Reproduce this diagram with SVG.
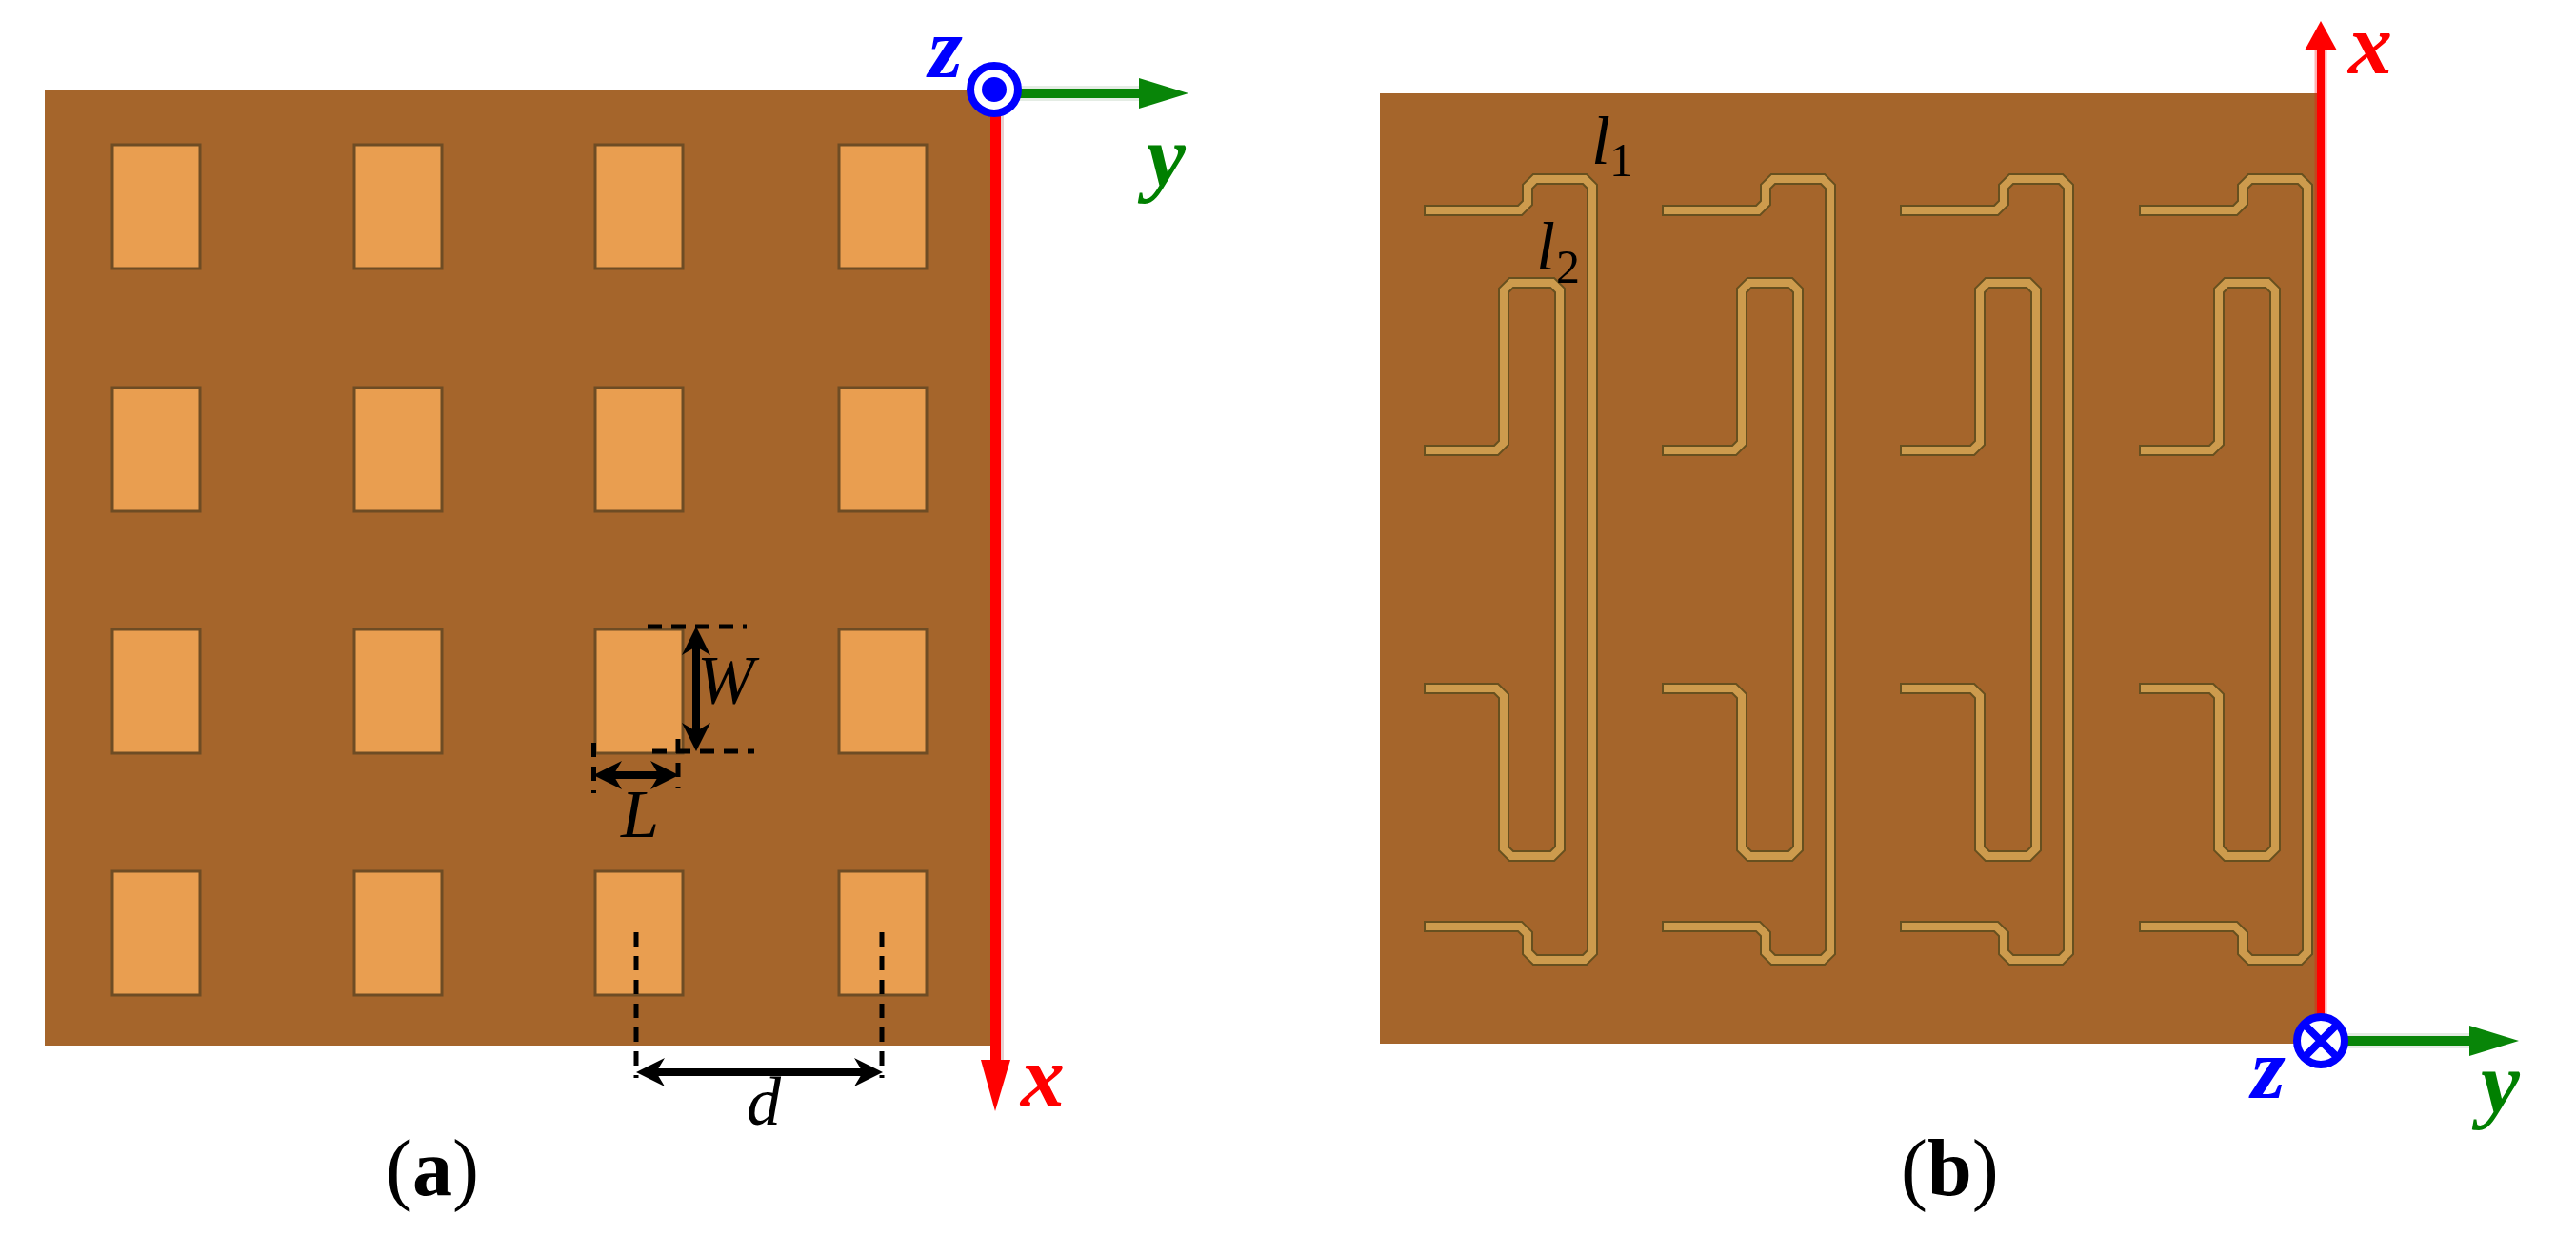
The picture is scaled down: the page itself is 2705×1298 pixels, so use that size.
<svg xmlns="http://www.w3.org/2000/svg" width="2705" height="1298" viewBox="0 0 2705 1298">
<style>
.plate{fill:#a5652b}
.pad{fill:#e99e50;stroke:#6e4c24;stroke-width:3}
.to,.ti{fill:none;stroke-linejoin:miter;stroke-miterlimit:4}
.to{stroke:#67501f;stroke-width:12}
.ti{stroke:#cd9b4d;stroke-width:8}
.dash{fill:none;stroke:#000;stroke-width:5;stroke-dasharray:15 10}
.dim{fill:none;stroke:#000;stroke-width:8;marker-start:url(#dimS);marker-end:url(#dimE)}
.ring{fill:#fff;stroke:#00f;stroke-width:8}
.ax{font-family:"Liberation Serif",serif;font-style:italic;font-weight:700;font-size:92px}
.m{font-family:"Liberation Serif",serif;font-style:italic;font-size:72px;fill:#000}
.sub{font-style:normal;font-size:50px}
.cap{font-family:"Liberation Serif",serif;font-size:84px;fill:#000}
</style>
<defs>
<marker id="dimE" markerUnits="userSpaceOnUse" markerWidth="32" markerHeight="32" refX="18" refY="15" orient="auto" overflow="visible"><path d="M0 0L30 15L0 30L9 15Z" fill="#000"/></marker>
<marker id="dimS" markerUnits="userSpaceOnUse" markerWidth="32" markerHeight="32" refX="12" refY="15" orient="auto" overflow="visible"><path d="M30 0L0 15L30 30L21 15Z" fill="#000"/></marker>
<g id="unit">
<path class="to" d="M1495 221H1596L1604 213V196L1612 188H1664L1672 196V1000L1664 1008H1612L1604 1000V981L1596 973H1495"/>
<path class="ti" d="M1497 221H1596L1604 213V196L1612 188H1664L1672 196V1000L1664 1008H1612L1604 1000V981L1596 973H1497"/>
<path class="to" d="M1495 473H1571L1579 465V305L1587 297H1630L1638 305V891L1630 899H1587L1579 891V731L1571 723H1495"/>
<path class="ti" d="M1497 473H1571L1579 465V305L1587 297H1630L1638 305V891L1630 899H1587L1579 891V731L1571 723H1497"/>
</g>
</defs>
<rect width="2705" height="1298" fill="#fff"/>
<g id="plate-a">
<rect class="plate" x="47" y="94" width="994" height="1004"/>
<g id="pads">
<rect class="pad" x="118" y="152" width="92" height="130"/><rect class="pad" x="372" y="152" width="92" height="130"/><rect class="pad" x="625" y="152" width="92" height="130"/><rect class="pad" x="881" y="152" width="92" height="130"/>
<rect class="pad" x="118" y="407" width="92" height="130"/><rect class="pad" x="372" y="407" width="92" height="130"/><rect class="pad" x="625" y="407" width="92" height="130"/><rect class="pad" x="881" y="407" width="92" height="130"/>
<rect class="pad" x="118" y="661" width="92" height="130"/><rect class="pad" x="372" y="661" width="92" height="130"/><rect class="pad" x="625" y="661" width="92" height="130"/><rect class="pad" x="881" y="661" width="92" height="130"/>
<rect class="pad" x="118" y="915" width="92" height="130"/><rect class="pad" x="372" y="915" width="92" height="130"/><rect class="pad" x="625" y="915" width="92" height="130"/><rect class="pad" x="881" y="915" width="92" height="130"/>
</g>
</g>
<g id="plate-b">
<rect class="plate" x="1449" y="98" width="984" height="998"/>
<use href="#unit"/>
<use href="#unit" x="250"/>
<use href="#unit" x="500"/>
<use href="#unit" x="751"/>
</g>
<g id="connectors">
<path class="dash" d="M680 658H784M685 789H792M623.500 780V833M712 776V828M668 979V1132M926 979V1132"/>
<path class="dim" d="M731 670V777"/>
<path class="dim" d="M635 814H701"/>
<path class="dim" d="M680 1126H915"/>
<g id="axes-a">
<path d="M1052 120V1120" stroke="#e8d0d0" stroke-width="4" fill="none"/>
<path d="M1045.500 120V1120" stroke="#f00" stroke-width="11" fill="none"/>
<path d="M1030 1113H1061L1045 1167Z" fill="#f00"/>
<path d="M1070 98H1200" stroke="#e4ece4" stroke-width="16" fill="none"/>
<path d="M1070 98H1200" stroke="#088508" stroke-width="10" fill="none"/>
<path d="M1196 82L1248 98L1196 114Z" fill="#088508"/>
</g>
<g id="axes-b">
<path d="M2437 50V1070" stroke="#f00" stroke-opacity=".3" stroke-width="13" fill="none"/>
<path d="M2437 50V1070" stroke="#f00" stroke-width="8" fill="none"/>
<path d="M2420 53H2454L2437 22Z" fill="#f00"/>
<path d="M2465 1093H2598" stroke="#e4ece4" stroke-width="16" fill="none"/>
<path d="M2465 1093H2598" stroke="#088508" stroke-width="10" fill="none"/>
<path d="M2593 1077L2645 1093L2593 1109Z" fill="#088508"/>
</g>
</g>
<g id="z-out"><circle class="ring" cx="1044" cy="94" r="25"/><circle cx="1044" cy="94" r="13" fill="#00f"/></g>
<g id="z-in"><circle class="ring" cx="2437" cy="1093" r="25"/><path d="M2419 1075L2455 1111M2455 1075L2419 1111" stroke="#00f" stroke-width="8" fill="none"/></g>
<g id="labels">
<text class="ax" x="975" y="81" fill="#00f">z</text>
<text class="ax" x="1204" y="195" fill="#008000">y</text>
<text class="ax" x="1072" y="1161" fill="#f00">x</text>
<text class="ax" x="2466" y="77" fill="#f00">x</text>
<text class="ax" x="2364" y="1153" fill="#00f">z</text>
<text class="ax" x="2605" y="1168" fill="#008000">y</text>
<text class="m" x="732" y="738">W</text>
<text class="m" x="652" y="879">L</text>
<text class="m" x="784" y="1181">d</text>
<text class="m" x="1671" y="172">l<tspan class="sub" x="1690" y="185">1</tspan></text>
<text class="m" x="1613" y="283">l<tspan class="sub" x="1634" y="297">2</tspan></text>
<text class="cap" x="405" y="1255">(<tspan font-weight="700">a</tspan>)</text>
<text class="cap" x="1996" y="1255">(<tspan font-weight="700">b</tspan>)</text>
</g>
</svg>
